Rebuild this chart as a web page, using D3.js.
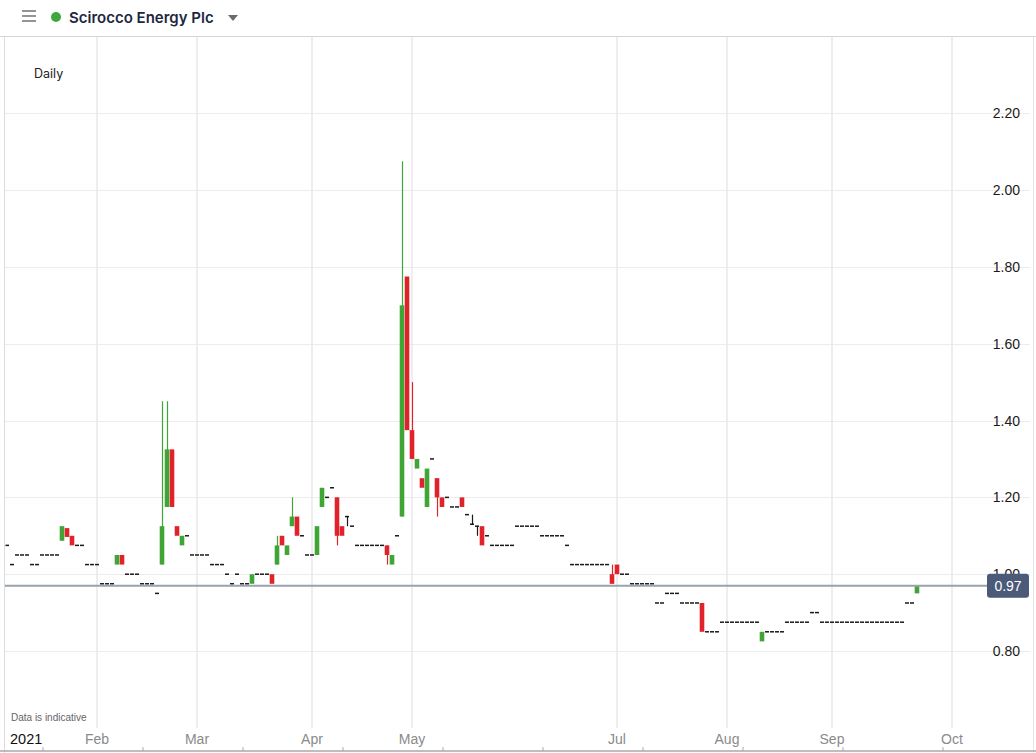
<!DOCTYPE html>
<html>
<head>
<meta charset="utf-8">
<script src="https://cdn.jsdelivr.net/npm/d3@7/dist/d3.min.js"></script>
<style>
  html, body { margin: 0; padding: 0; background: #fff; }
  svg { display: block; }
</style>
</head>
<body>
<svg id="chart" width="1036" height="753"></svg>
<script>
// Scirocco Energy Plc — daily OHLC, 6 Jan 2021 to 24 Sep 2021 (GBP)
const title = "Scirocco Energy Plc";
const interval = "Daily";
const firstSession = "2021-01-04";
const lastSession = "2021-09-24";
const firstBarDate = "2021-01-06";
const marketHolidays = ["2021-04-02", "2021-04-05", "2021-05-03", "2021-05-31", "2021-08-30"];
const lastPrice = 0.97;

const yTicks = [0.80, 1.00, 1.20, 1.40, 1.60, 1.80, 2.00, 2.20];
const monthTicks = ["2021-02-01", "2021-03-01", "2021-04-01", "2021-05-04", "2021-07-01", "2021-08-02", "2021-09-01", "2021-10-01"];

// one value per trading session, grouped by month
const opens = [
  // Jan
  1.075,1.025,1.05,1.05,1.05,1.025,1.025,1.05,1.05,1.05,1.05,1.087,1.12,1.10,1.075,1.075,1.025,1.025,
  // Feb
  1.025,0.975,0.975,0.975,1.025,1.05,1.0,1.0,1.0,0.975,0.975,0.975,0.95,1.025,1.175,1.325,1.125,1.075,1.10,1.05,
  // Mar
  1.05,1.05,1.05,1.025,1.025,1.025,1.0,0.975,1.0,0.975,0.975,0.975,1.0,1.0,1.0,1.0,1.025,1.10,1.05,1.125,1.15,1.10,1.05,
  // Apr
  1.05,1.05,1.175,1.20,1.225,1.20,1.125,1.15,1.125,1.075,1.075,1.075,1.075,1.075,1.075,1.075,1.025,1.10,1.15,1.775,
  // May
  1.375,1.275,1.25,1.175,1.30,1.25,1.20,1.20,1.175,1.175,1.20,1.155,1.13,1.125,1.125,1.10,1.075,1.075,1.075,
  // Jun
  1.075,1.075,1.125,1.125,1.125,1.125,1.125,1.10,1.10,1.10,1.10,1.10,1.075,1.025,1.025,1.025,1.025,1.025,1.025,1.025,1.025,1.0,
  // Jul
  1.025,1.0,1.0,0.975,0.975,0.975,0.975,0.975,0.925,0.925,0.95,0.95,0.95,0.925,0.925,0.925,0.925,0.925,0.85,0.85,0.85,0.875,
  // Aug
  0.875,0.875,0.875,0.875,0.875,0.875,0.875,0.825,0.85,0.85,0.85,0.85,0.875,0.875,0.875,0.875,0.875,0.90,0.90,0.875,0.875,
  // Sep
  0.875,0.875,0.875,0.875,0.875,0.875,0.875,0.875,0.875,0.875,0.875,0.875,0.875,0.875,0.875,0.925,0.925,0.95
];
const highs = [
  1.075,1.025,1.05,1.05,1.05,1.025,1.025,1.05,1.05,1.05,1.05,1.125,1.12,1.10,1.075,1.075,1.025,1.025,
  1.025,0.975,0.975,0.975,1.05,1.05,1.0,1.0,1.0,0.975,0.975,0.975,0.95,1.45,1.45,1.325,1.125,1.10,1.10,1.05,
  1.05,1.05,1.05,1.025,1.025,1.025,1.0,0.975,1.0,0.975,0.975,1.0,1.0,1.0,1.0,1.0,1.10,1.10,1.075,1.20,1.15,1.10,1.05,
  1.05,1.125,1.225,1.20,1.225,1.20,1.125,1.15,1.125,1.075,1.075,1.075,1.075,1.075,1.075,1.075,1.05,1.10,2.075,1.775,
  1.50,1.30,1.25,1.275,1.30,1.25,1.20,1.20,1.175,1.175,1.20,1.155,1.155,1.125,1.125,1.10,1.075,1.075,1.075,
  1.075,1.075,1.125,1.125,1.125,1.125,1.125,1.10,1.10,1.10,1.10,1.10,1.075,1.025,1.025,1.025,1.025,1.025,1.025,1.025,1.025,1.025,
  1.025,1.0,1.0,0.975,0.975,0.975,0.975,0.975,0.925,0.925,0.95,0.95,0.95,0.925,0.925,0.925,0.925,0.925,0.85,0.85,0.85,0.875,
  0.875,0.875,0.875,0.875,0.875,0.875,0.875,0.85,0.85,0.85,0.85,0.85,0.875,0.875,0.875,0.875,0.875,0.90,0.90,0.875,0.875,
  0.875,0.875,0.875,0.875,0.875,0.875,0.875,0.875,0.875,0.875,0.875,0.875,0.875,0.875,0.875,0.925,0.925,0.97
];
const lows = [
  1.075,1.025,1.05,1.05,1.05,1.025,1.025,1.05,1.05,1.05,1.05,1.087,1.097,1.075,1.075,1.075,1.025,1.025,
  1.025,0.975,0.975,0.975,1.025,1.025,1.0,1.0,1.0,0.975,0.975,0.975,0.95,1.025,1.175,1.175,1.10,1.075,1.10,1.05,
  1.05,1.05,1.05,1.025,1.025,1.025,1.0,0.975,1.0,0.975,0.975,0.975,1.0,1.0,1.0,0.975,1.025,1.075,1.05,1.125,1.10,1.10,1.05,
  1.05,1.05,1.175,1.20,1.225,1.075,1.10,1.125,1.125,1.075,1.075,1.075,1.075,1.075,1.075,1.025,1.025,1.10,1.15,1.375,
  1.30,1.275,1.225,1.175,1.30,1.15,1.175,1.20,1.175,1.175,1.175,1.155,1.13,1.10,1.075,1.10,1.075,1.075,1.075,
  1.075,1.075,1.125,1.125,1.125,1.125,1.125,1.10,1.10,1.10,1.10,1.10,1.075,1.025,1.025,1.025,1.025,1.025,1.025,1.025,1.025,0.975,
  1.0,1.0,1.0,0.975,0.975,0.975,0.975,0.975,0.925,0.925,0.95,0.95,0.95,0.925,0.925,0.925,0.925,0.85,0.85,0.85,0.85,0.875,
  0.875,0.875,0.875,0.875,0.875,0.875,0.875,0.825,0.85,0.85,0.85,0.85,0.875,0.875,0.875,0.875,0.875,0.90,0.90,0.875,0.875,
  0.875,0.875,0.875,0.875,0.875,0.875,0.875,0.875,0.875,0.875,0.875,0.875,0.875,0.875,0.875,0.925,0.925,0.95
];
const closes = [
  1.075,1.025,1.05,1.05,1.05,1.025,1.025,1.05,1.05,1.05,1.05,1.125,1.097,1.075,1.075,1.075,1.025,1.025,
  1.025,0.975,0.975,0.975,1.05,1.025,1.0,1.0,1.0,0.975,0.975,0.975,0.95,1.125,1.325,1.175,1.10,1.10,1.10,1.05,
  1.05,1.05,1.05,1.025,1.025,1.025,1.0,0.975,1.0,0.975,0.975,1.0,1.0,1.0,1.0,0.975,1.075,1.075,1.075,1.15,1.10,1.10,1.05,
  1.05,1.125,1.225,1.20,1.225,1.10,1.10,1.15,1.125,1.075,1.075,1.075,1.075,1.075,1.075,1.05,1.05,1.10,1.70,1.375,
  1.30,1.30,1.225,1.275,1.30,1.20,1.175,1.20,1.175,1.175,1.175,1.155,1.13,1.125,1.075,1.10,1.075,1.075,1.075,
  1.075,1.075,1.125,1.125,1.125,1.125,1.125,1.10,1.10,1.10,1.10,1.10,1.075,1.025,1.025,1.025,1.025,1.025,1.025,1.025,1.025,0.975,
  1.0,1.0,1.0,0.975,0.975,0.975,0.975,0.975,0.925,0.925,0.95,0.95,0.95,0.925,0.925,0.925,0.925,0.85,0.85,0.85,0.85,0.875,
  0.875,0.875,0.875,0.875,0.875,0.875,0.875,0.85,0.85,0.85,0.85,0.85,0.875,0.875,0.875,0.875,0.875,0.90,0.90,0.875,0.875,
  0.875,0.875,0.875,0.875,0.875,0.875,0.875,0.875,0.875,0.875,0.875,0.875,0.875,0.875,0.875,0.925,0.925,0.97
];

// ---- trading calendar (weekdays minus exchange holidays) ----
const parse = d3.timeParse("%Y-%m-%d");
const fmt = d3.timeFormat("%Y-%m-%d");
const holidaySet = new Set(marketHolidays);
const sessions = d3.timeDays(parse(firstSession), d3.timeDay.offset(parse(lastSession), 1))
  .filter(d => d.getDay() !== 0 && d.getDay() !== 6 && !holidaySet.has(fmt(d)))
  .map(fmt);
const startIdx = sessions.indexOf(firstBarDate);
const bars = opens.map((o, i) => ({
  date: sessions[startIdx + i], open: o, high: highs[i], low: lows[i], close: closes[i]
}));

// ---- layout ----
const W = 1036, H = 753;
const frame = { left: 4.5, right: 1033.5, top: 36.5, bottom: 753 };
const plot = { left: 5, right: 975, top: 37, bottom: 728 };
const step = 5;

const svg = d3.select("#chart");
const FONT = "'Liberation Sans', Arial, sans-serif";

const x = d3.scaleBand()
  .domain(sessions)
  .range([-5.5, -5.5 + sessions.length * step])
  .padding(0);
const xc = d => x(d) + x.bandwidth() / 2;
// position for a calendar date: first session on/after it, else calendar extrapolation
function xDate(str) {
  const t = parse(str);
  const s = sessions.find(s => parse(s) >= t);
  if (s) return xc(s);
  const last = sessions[sessions.length - 1];
  return xc(last) + d3.timeDay.count(parse(last), t) * step;
}

const y = d3.scaleLinear().domain([0.80, 2.20]).range([651, 113.3]);

// ---- header ----
const header = svg.append("g");
[11, 16, 21].forEach(yy => header.append("line")
  .attr("x1", 22).attr("x2", 36).attr("y1", yy).attr("y2", yy)
  .attr("stroke", "#7a7a7a").attr("stroke-width", 1.6));
header.append("circle").attr("cx", 56).attr("cy", 17).attr("r", 5).attr("fill", "#3fa83c");
header.append("text").attr("x", 69).attr("y", 23)
  .attr("font-family", "Inter, 'Open Sans', sans-serif").attr("font-weight", 600)
  .attr("font-size", 15).attr("fill", "#1d2742").text(title);
header.append("path").attr("d", "M228,15 L238,15 L233,21 Z").attr("fill", "#6b6b6b");

// frame
svg.append("line").attr("x1", 0).attr("x2", W).attr("y1", frame.top).attr("y2", frame.top)
  .attr("stroke", "#d6d6d6");
svg.append("line").attr("x1", frame.left).attr("x2", frame.left).attr("y1", frame.top).attr("y2", H)
  .attr("stroke", "#dcdcdc");
svg.append("line").attr("x1", frame.right).attr("x2", frame.right).attr("y1", frame.top).attr("y2", H)
  .attr("stroke", "#e2e6ea");

// ---- grid ----
const grid = svg.append("g");
grid.selectAll(".hg").data(yTicks).join("line")
  .attr("x1", plot.left).attr("x2", 1030)
  .attr("y1", d => Math.round(y(d)) + 0.5).attr("y2", d => Math.round(y(d)) + 0.5)
  .attr("stroke", "#ececec").attr("stroke-width", 1.2);
grid.selectAll(".vg").data(monthTicks).join("line")
  .attr("x1", d => xDate(d)).attr("x2", d => xDate(d))
  .attr("y1", plot.top).attr("y2", plot.bottom)
  .attr("stroke", "#e8e8e8").attr("stroke-width", 1.5);

// ---- candles ----
svg.append("clipPath").attr("id", "plotclip").append("rect")
  .attr("x", plot.left + 0.5).attr("y", plot.top).attr("width", plot.right - plot.left).attr("height", plot.bottom - plot.top);
const UP = "#3fa535", DOWN = "#e0232a", FLAT = "#1a1a1a";
const colorOf = d => d.close > d.open ? UP : d.close < d.open ? DOWN : FLAT;
const g = svg.append("g").attr("clip-path", "url(#plotclip)");
const candle = g.selectAll(".c").data(bars).join("g");
candle.filter(d => d.high > Math.max(d.open, d.close) || d.low < Math.min(d.open, d.close))
  .append("line")
  .attr("x1", d => Math.round(xc(d.date)) + 0.5).attr("x2", d => Math.round(xc(d.date)) + 0.5)
  .attr("y1", d => y(d.high)).attr("y2", d => y(d.low))
  .attr("stroke", colorOf).attr("stroke-width", 1.2);
candle.append("rect")
  .attr("x", d => d.open === d.close ? xc(d.date) - 2 : x(d.date) + 0.2)
  .attr("width", d => d.open === d.close ? 4 : x.bandwidth() - 0.4)
  .attr("y", d => d.open === d.close ? y(d.close) - 0.75 : y(Math.max(d.open, d.close)))
  .attr("height", d => d.open === d.close ? 1.5 : Math.max(1.5, Math.abs(y(d.open) - y(d.close))))
  .attr("fill", colorOf);

// ---- last price line ----
svg.append("line").attr("x1", plot.left).attr("x2", 990)
  .attr("y1", y(lastPrice)).attr("y2", y(lastPrice))
  .attr("stroke", "#9aa2ab").attr("stroke-width", 2);

// ---- y axis labels ----
svg.append("g").selectAll("text").data(yTicks).join("text")
  .attr("x", 1020).attr("y", d => y(d) + 5)
  .attr("text-anchor", "end").attr("font-family", FONT).attr("font-size", 14)
  .attr("fill", "#1a1a1a").text(d => d3.format(".2f")(d));

// last price tag (sits over the neighbouring axis label)
const tag = svg.append("g");
tag.append("rect").attr("x", 987).attr("y", y(lastPrice) - 12).attr("width", 42).attr("height", 24)
  .attr("rx", 3).attr("fill", "#4b5a78");
tag.append("text").attr("x", 1008).attr("y", y(lastPrice) + 5).attr("text-anchor", "middle")
  .attr("font-family", FONT).attr("font-size", 14).attr("fill", "#ffffff")
  .text(d3.format(".2f")(lastPrice));

// ---- labels ----
svg.append("text").attr("x", 34).attr("y", 78).attr("font-family", "Inter, 'Open Sans', sans-serif")
  .attr("font-size", 12.5).attr("fill", "#222").text(interval);
svg.append("text").attr("x", 11).attr("y", 721).attr("font-family", FONT)
  .attr("font-size", 10).attr("fill", "#666").text("Data is indicative");

svg.append("text").attr("x", 10).attr("y", 744).attr("font-family", FONT)
  .attr("font-size", 14.5).attr("fill", "#111").text(d3.timeFormat("%Y")(parse(firstSession)));
svg.append("g").selectAll("text").data(monthTicks).join("text")
  .attr("x", d => xDate(d)).attr("y", 744).attr("text-anchor", "middle")
  .attr("font-family", FONT).attr("font-size", 14).attr("fill", "#8a8a8a")
  .text(d => d3.timeFormat("%b")(parse(d)));

// navigator strip at the bottom edge
const nav = svg.append("g");
nav.append("line").attr("x1", 0).attr("x2", W).attr("y1", 751).attr("y2", 751)
  .attr("stroke", "#a9a9a9").attr("stroke-width", 1.5);
nav.selectAll("line.t").data(sessions.filter((s, i) => i % 20 === 0)).join("line")
  .attr("x1", d => xc(d) + 46).attr("x2", d => xc(d) + 46)
  .attr("y1", 747).attr("y2", 751).attr("stroke", "#a9a9a9");
</script>
</body>
</html>
